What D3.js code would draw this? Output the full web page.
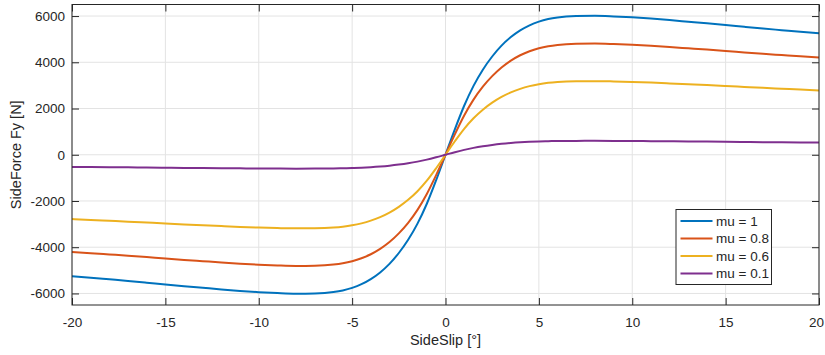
<!DOCTYPE html>
<html>
<head>
<meta charset="utf-8">
<script src="https://cdn.jsdelivr.net/npm/d3@7"></script>
<style>
    body { margin: 0; background: #fff; }
    #chart-container svg { display: block; font-family: "Liberation Sans", Arial, Helvetica, sans-serif; }
    .axis-scale text { font-size: 13.5px; fill: #262626; }
</style>
</head>
<body>
<div id="chart-container"></div>
<script>
// side slip angles [deg]
const SLIP = [-20, -19, -18, -17, -16, -15, -14, -13, -12, -11, -10, -9, -8, -7,
    -6, -5.5, -5, -4.5, -4, -3.5, -3, -2.5, -2, -1.5, -1, -0.5, 0,
    0.5, 1, 1.5, 2, 2.5, 3, 3.5, 4, 4.5, 5, 5.5, 6,
    7, 8, 9, 10, 11, 12, 13, 14, 15, 16, 17, 18, 19, 20];

// side force per friction coefficient [N]
const MU_1 = [-5252, -5320, -5390, -5460, -5535, -5612, -5685, -5755, -5825, -5890, -5945, -5985, -6010, -6000,
    -5940, -5870, -5760, -5600, -5380, -5090, -4720, -4250, -3680, -2980, -2120, -1100, 0,
    1100, 2120, 2980, 3680, 4250, 4720, 5090, 5380, 5600, 5760, 5870, 5940,
    6000, 6010, 5985, 5945, 5890, 5825, 5755, 5685, 5612, 5535, 5460, 5390, 5320, 5252];

const MU_08 = [-4202, -4256, -4312, -4368, -4428, -4490, -4548, -4604, -4660, -4712, -4756, -4788, -4808, -4800,
    -4752, -4696, -4608, -4480, -4304, -4072, -3776, -3400, -2944, -2384, -1696, -880, 0,
    880, 1696, 2384, 2944, 3400, 3776, 4072, 4304, 4480, 4608, 4696, 4752,
    4800, 4808, 4788, 4756, 4712, 4660, 4604, 4548, 4490, 4428, 4368, 4312, 4256, 4202];

const MU_06 = [-2784, -2820, -2857, -2894, -2934, -2974, -3013, -3050, -3087, -3122, -3151, -3172, -3185, -3180,
    -3148, -3111, -3053, -2968, -2851, -2698, -2502, -2253, -1950, -1579, -1124, -583, 0,
    583, 1124, 1579, 1950, 2253, 2502, 2698, 2851, 2968, 3053, 3111, 3148,
    3180, 3185, 3172, 3151, 3122, 3087, 3050, 3013, 2974, 2934, 2894, 2857, 2820, 2784];

const MU_01 = [-525, -532, -539, -546, -554, -561, -568, -576, -583, -589, -595, -599, -601, -600,
    -594, -587, -576, -560, -538, -509, -472, -425, -368, -298, -212, -110, 0,
    110, 212, 298, 368, 425, 472, 509, 538, 560, 576, 587, 594,
    600, 601, 599, 595, 589, 583, 576, 568, 561, 554, 546, 539, 532, 525];

const LABELS = ["mu = 1", "mu = 0.8", "mu = 0.6", "mu = 0.1"];
const SERIES = [MU_1, MU_08, MU_06, MU_01];

// tick labels
const X_TICKS = [-20, -15, -10, -5, 0, 5, 10, 15, 20];
const Y_TICKS = [-6000, -4000, -2000, 0, 2000, 4000, 6000];

function drawChart() {
    const W = 825, H = 355;
    const margin = { top: 4.5, right: 6, bottom: 50, left: 72 };
    const width = W - margin.left - margin.right;
    const height = H - margin.top - margin.bottom;
    const tick = 7;
    const axisColor = "#262626";
    const plain = d => String(d);   // hyphen minus, no thousands separator

    const svg = d3.select("#chart-container")
        .append("svg")
        .attr("width", W)
        .attr("height", H);

    const chart = svg.append("g")
        .attr("transform", `translate(${margin.left},${margin.top})`);

    const x = d3.scaleLinear().domain([-20, 20]).range([0, width]);
    const y = d3.scaleLinear().domain([-6500, 6500]).range([height, 0]);

    // grid
    const grid = chart.append("g").attr("stroke", "#e3e3e3").attr("stroke-width", 1);
    grid.selectAll(".gx").data(X_TICKS).enter().append("line")
        .attr("x1", d => x(d)).attr("x2", d => x(d))
        .attr("y1", 0).attr("y2", height);
    grid.selectAll(".gy").data(Y_TICKS).enter().append("line")
        .attr("x1", 0).attr("x2", width)
        .attr("y1", d => y(d)).attr("y2", d => y(d));

    // bottom + left axes, ticks inside
    const xAxis = chart.append("g")
        .attr("class", "axis-scale")
        .attr("transform", `translate(0,${height})`)
        .call(d3.axisBottom(x).tickValues(X_TICKS).tickFormat(plain)
            .tickSizeInner(-tick).tickSizeOuter(0).tickPadding(12));

    // last label sits on the window edge, pull it in a little
    xAxis.selectAll(".tick text").filter(d => d === 20).attr("dx", -3);

    chart.append("g")
        .attr("class", "axis-scale")
        .call(d3.axisLeft(y).tickValues(Y_TICKS).tickFormat(plain)
            .tickSizeInner(-tick).tickSizeOuter(0).tickPadding(7));

    // top + right ticks (box on)
    chart.append("g")
        .attr("class", "axis-scale")
        .call(d3.axisTop(x).tickValues(X_TICKS).tickSize(-tick).tickFormat(""));
    chart.append("g")
        .attr("class", "axis-scale")
        .attr("transform", `translate(${width},0)`)
        .call(d3.axisRight(y).tickValues(Y_TICKS).tickSize(-tick).tickFormat(""));

    chart.selectAll(".axis-scale .domain").remove();
    chart.selectAll(".axis-scale line").attr("stroke", axisColor);

    // lines
    const color = d3.scaleOrdinal()
        .domain(LABELS)
        .range(["#0072BD", "#D95319", "#EDB120", "#7E2F8E"]);

    const line = d3.line()
        .x(d => x(d[0]))
        .y(d => y(d[1]))
        .curve(d3.curveMonotoneX);

    chart.append("g")
        .selectAll("path")
        .data(SERIES)
        .enter()
        .append("path")
        .attr("fill", "none")
        .attr("stroke", (d, i) => color(LABELS[i]))
        .attr("stroke-width", 2)
        .attr("d", d => line(SLIP.map((s, j) => [s, d[j]])));

    // box
    chart.append("rect")
        .attr("x", 0).attr("y", 0)
        .attr("width", width).attr("height", height)
        .attr("fill", "none")
        .attr("stroke", axisColor)
        .attr("stroke-width", 1);

    // axis labels
    svg.append("text")
        .attr("x", margin.left + width / 2)
        .attr("y", 345)
        .attr("text-anchor", "middle")
        .attr("font-size", 14.5)
        .attr("fill", axisColor)
        .text("SideSlip [°]");

    svg.append("text")
        .attr("transform", `translate(21,${margin.top + height / 2}) rotate(-90)`)
        .attr("text-anchor", "middle")
        .attr("font-size", 14.5)
        .attr("fill", axisColor)
        .text("SideForce Fy [N]");

    // legend
    const legend = svg.append("g").attr("transform", "translate(676,209.5)");
    legend.append("rect")
        .attr("width", 95.5).attr("height", 75)
        .attr("fill", "#fff")
        .attr("stroke", axisColor)
        .attr("stroke-width", 1);

    const item = legend.selectAll(".item")
        .data(LABELS)
        .enter()
        .append("g")
        .attr("transform", (d, i) => `translate(0,${11.5 + i * 17.5})`);
    item.append("line")
        .attr("x1", 4.5).attr("x2", 36.5)
        .attr("stroke", d => color(d))
        .attr("stroke-width", 2);
    item.append("text")
        .attr("x", 40)
        .attr("dy", "0.35em")
        .attr("font-size", 13.5)
        .attr("fill", axisColor)
        .text(d => d);
}

window.onload = () => {
    drawChart();
};
</script>
</body>
</html>
